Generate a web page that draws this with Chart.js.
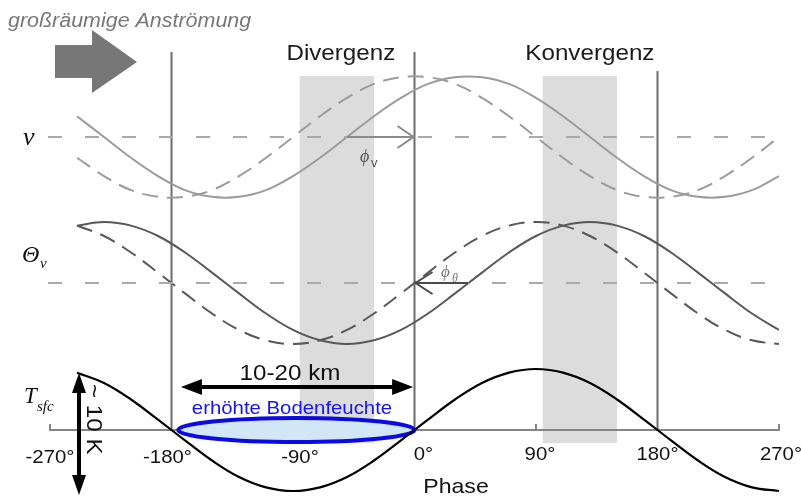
<!DOCTYPE html>
<html>
<head>
<meta charset="utf-8">
<script src="https://cdn.jsdelivr.net/npm/chart.js@4"></script>
<style>
  body { margin: 0; background: #fff; }
  canvas { display: block; }
</style>
</head>
<body>
<canvas id="myChart" width="801" height="496"></canvas>
<script>
// phase in degrees, curves normalised to amplitude 1
const phase = [-250,-230,-210,-190,-170,-150,-130,-110,-90,-70,-50,-30,-10,10,30,50,70,90,110,130,150,170,190,210,230,250,270];
const vSolid = [0.34,0,-0.34,-0.64,-0.87,-0.98,-0.98,-0.87,-0.64,-0.34,0,0.34,0.64,0.87,0.98,0.98,0.87,0.64,0.34,0,-0.34,-0.64,-0.87,-0.98,-0.98,-0.87,-0.64];
const vDashed = [-0.34,-0.64,-0.87,-0.98,-0.98,-0.87,-0.64,-0.34,0,0.34,0.64,0.87,0.98,0.98,0.87,0.64,0.34,0,-0.34,-0.64,-0.87,-0.98,-0.98,-0.87,-0.64,-0.34,0];
const thetaSolid = [0.94,1,0.94,0.77,0.5,0.17,-0.17,-0.5,-0.77,-0.94,-1,-0.94,-0.77,-0.5,-0.17,0.17,0.5,0.77,0.94,1,0.94,0.77,0.5,0.17,-0.17,-0.5,-0.77];
const thetaDashed = [0.94,0.77,0.5,0.17,-0.17,-0.5,-0.77,-0.94,-1,-0.94,-0.77,-0.5,-0.17,0.17,0.5,0.77,0.94,1,0.94,0.77,0.5,0.17,-0.17,-0.5,-0.77,-0.94,-1];
const tSfc = [0.94,0.77,0.5,0.17,-0.17,-0.5,-0.77,-0.94,-1,-0.94,-0.77,-0.5,-0.17,0.17,0.5,0.77,0.94,1,0.94,0.77,0.5,0.17,-0.17,-0.5,-0.77,-0.94,-1];

const tickValues = [-270,-180,-90,0,90,180,270];
const tickLabels = ['-270°','-180°','-90°','0°','90°','180°','270°'];
const divergenz = [-85,-30];
const konvergenz = [95,150];
const phiV = 50;
const phiTheta = 40;
const feuchte = [-175,0];

function pts(ys){ return phase.map((p,i) => ({x:p, y:ys[i]})); }

function txt(ctx, s, x, y, font, color, align){
    ctx.save();
    ctx.translate(x, y);
    ctx.scale(1.1, 1);
    ctx.font = font;
    ctx.fillStyle = color;
    ctx.textAlign = align || 'center';
    ctx.fillText(s, 0, 0);
    ctx.restore();
}

function arrowHead(ctx, x, y, dir, len, half){
    ctx.beginPath();
    ctx.moveTo(x, y);
    ctx.lineTo(x - dir*len, y - half);
    ctx.lineTo(x - dir*len, y + half);
    ctx.closePath();
    ctx.fill();
}

const sketch = {
    id: 'sketch',
    beforeDatasetsDraw(chart){
        const ctx = chart.ctx, xs = chart.scales.x;
        ctx.save();
        // shaded bands
        ctx.fillStyle = '#dcdcdc';
        [divergenz, konvergenz].forEach(b => {
            const a = xs.getPixelForValue(b[0]), c = xs.getPixelForValue(b[1]);
            ctx.fillRect(a, 76, c - a, 367);
        });
        // vertical phase lines
        ctx.strokeStyle = '#6c6c6c';
        ctx.lineWidth = 2;
        [[-180,52],[0,52],[180,71]].forEach(v => {
            const x = xs.getPixelForValue(v[0]);
            ctx.beginPath(); ctx.moveTo(x, v[1]); ctx.lineTo(x, 430); ctx.stroke();
        });
        // phase axis
        ctx.strokeStyle = '#858585';
        ctx.beginPath();
        ctx.moveTo(xs.getPixelForValue(-270), 430);
        ctx.lineTo(xs.getPixelForValue(270), 430);
        [-270, 90, 270].forEach(t => {
            const x = xs.getPixelForValue(t);
            ctx.moveTo(x, 431); ctx.lineTo(x, 424);
        });
        ctx.stroke();
        // moist ground ellipse
        const e0 = xs.getPixelForValue(feuchte[0]), e1 = xs.getPixelForValue(feuchte[1]);
        ctx.beginPath();
        ctx.ellipse((e0 + e1)/2, 430, (e1 - e0)/2, 12, 0, 0, Math.PI*2);
        ctx.fillStyle = '#d2e7f5';
        ctx.fill();
        ctx.strokeStyle = '#0a0ae6';
        ctx.lineWidth = 4;
        ctx.stroke();
        ctx.restore();
    },
    afterDatasetsDraw(chart){
        const ctx = chart.ctx, xs = chart.scales.x;
        ctx.save();
        ctx.textBaseline = 'alphabetic';
        // big inflow arrow
        ctx.fillStyle = '#777';
        ctx.beginPath();
        ctx.moveTo(55, 45); ctx.lineTo(92, 45); ctx.lineTo(92, 30); ctx.lineTo(137, 62);
        ctx.lineTo(92, 93); ctx.lineTo(92, 78); ctx.lineTo(55, 78);
        ctx.closePath(); ctx.fill();
        txt(ctx, 'großräumige Anströmung', 8, 27, 'italic 19.5px "Liberation Sans"', '#777', 'left');

        txt(ctx, 'Divergenz', xs.getPixelForValue((divergenz[0]+divergenz[1])/2) + 4, 60, '22px "Liberation Sans"', '#1a1a1a');
        txt(ctx, 'Konvergenz', xs.getPixelForValue((konvergenz[0]+konvergenz[1])/2) + 10, 60, '22px "Liberation Sans"', '#1a1a1a');

        // phi_v arrow
        const x0 = xs.getPixelForValue(0);
        ctx.strokeStyle = '#8a8a8a';
        ctx.lineWidth = 2;
        ctx.beginPath();
        ctx.moveTo(xs.getPixelForValue(-phiV), 137); ctx.lineTo(x0 - 1, 137);
        ctx.moveTo(x0 - 17, 126); ctx.lineTo(x0 - 1, 137); ctx.lineTo(x0 - 17, 148);
        ctx.stroke();
        ctx.fillStyle = '#555';
        ctx.font = 'italic 18px "Liberation Serif"';
        ctx.fillText('ϕ', 360, 162);
        ctx.font = '13px "Liberation Sans"';
        ctx.fillText('v', 371, 167);

        // phi_theta arrow
        ctx.strokeStyle = '#4a4a4a';
        ctx.beginPath();
        ctx.moveTo(xs.getPixelForValue(phiTheta), 283); ctx.lineTo(x0 + 1, 283);
        ctx.moveTo(x0 + 18, 272); ctx.lineTo(x0 + 1, 283); ctx.lineTo(x0 + 18, 294);
        ctx.stroke();
        ctx.fillStyle = '#777';
        ctx.font = 'italic 17px "Liberation Serif"';
        ctx.fillText('ϕ', 441, 277);
        ctx.font = 'italic 12px "Liberation Serif"';
        ctx.fillText('θ', 452, 282);

        // series labels
        ctx.fillStyle = '#111';
        ctx.font = 'italic 26px "Liberation Serif"';
        ctx.fillText('v', 23, 145);
        ctx.font = 'italic 24px "Liberation Serif"';
        ctx.fillText('Θ', 22, 262);
        ctx.font = 'italic 15px "Liberation Serif"';
        ctx.fillText('v', 40, 268);
        ctx.font = 'italic 23px "Liberation Serif"';
        ctx.fillText('T', 24, 403);
        ctx.font = 'italic 15px "Liberation Serif"';
        ctx.fillText('sfc', 37, 411);

        // tick labels
        const offs = [0, -4, 7, 9, 4, 0, 2];
        tickValues.forEach((t, i) => {
            const y = t < 0 ? 463 : 460;
            txt(ctx, tickLabels[i], xs.getPixelForValue(t) + offs[i], y, '18.5px "Liberation Sans"', '#111');
        });
        txt(ctx, 'Phase', 456, 493, '21px "Liberation Sans"', '#111');

        // 10-20 km arrow
        ctx.fillStyle = '#000';
        ctx.strokeStyle = '#000';
        ctx.lineWidth = 4;
        const k0 = xs.getPixelForValue(-173), k1 = xs.getPixelForValue(-1);
        ctx.beginPath(); ctx.moveTo(k0 + 10, 387); ctx.lineTo(k1 - 10, 387); ctx.stroke();
        arrowHead(ctx, k0, 387, -1, 21, 8);
        arrowHead(ctx, k1, 387, 1, 21, 8);
        txt(ctx, '10-20 km', 290, 380, '22px "Liberation Sans"', '#111');
        txt(ctx, 'erhöhte Bodenfeuchte', 292, 414, '18.5px "Liberation Sans"', '#1515f0');

        // ~10 K arrow
        ctx.beginPath(); ctx.moveTo(79, 385); ctx.lineTo(79, 484); ctx.stroke();
        ctx.save();
        ctx.translate(79, 373); ctx.rotate(Math.PI/2); arrowHead(ctx, 0, 0, -1, 20, 7);
        ctx.restore();
        ctx.save();
        ctx.translate(79, 495); ctx.rotate(Math.PI/2); arrowHead(ctx, 0, 0, 1, 20, 7);
        ctx.restore();
        ctx.save();
        ctx.translate(87, 384);
        ctx.rotate(Math.PI/2);
        ctx.scale(1.1, 1);
        ctx.font = '22px "Liberation Sans"';
        ctx.fillStyle = '#111';
        ctx.textAlign = 'left';
        ctx.fillText('~ 10 K', 0, 0);
        ctx.restore();

        ctx.restore();
    }
};

const grayV = '#9b9b9b', grayT = '#585858';
const base = { pointRadius: 0, borderWidth: 2, tension: 0.4, fill: false };

const config = {
    type: 'line',
    data: {
        datasets: [
            { ...base, data: [{x:-271.5,y:0},{x:271,y:0}], yAxisID: 'yV', borderColor: '#a9a9a9', borderDash: [14, 23], tension: 0, clip: false },
            { ...base, data: [{x:-271.5,y:0},{x:271,y:0}], yAxisID: 'yTh', borderColor: '#a9a9a9', borderDash: [14, 23], tension: 0, clip: false },
            { ...base, label: 'v', data: pts(vSolid), yAxisID: 'yV', borderColor: grayV },
            { ...base, label: 'v dashed', data: pts(vDashed), yAxisID: 'yV', borderColor: grayV, borderDash: [16, 9] },
            { ...base, label: 'Theta_v', data: pts(thetaSolid), yAxisID: 'yTh', borderColor: grayT },
            { ...base, label: 'Theta_v dashed', data: pts(thetaDashed), yAxisID: 'yTh', borderColor: grayT, borderDash: [16, 9] },
            { ...base, label: 'T_sfc', data: pts(tSfc), yAxisID: 'yT', borderColor: '#000', borderWidth: 2.2 }
        ]
    },
    options: {
        responsive: false,
        animation: false,
        layout: { padding: { left: 50, right: 22, top: 0, bottom: 0 } },
        plugins: { legend: { display: false }, tooltip: { enabled: false } },
        scales: {
            x: { type: 'linear', min: -270, max: 270, display: false },
            yV: { min: -5.885, max: 2.246, display: false },
            yTh: { min: -3.492, max: 4.639, display: false },
            yT: { min: -1.082, max: 7.049, display: false }
        }
    },
    plugins: [sketch]
};

new Chart(document.getElementById('myChart'), config);
</script>
</body>
</html>
